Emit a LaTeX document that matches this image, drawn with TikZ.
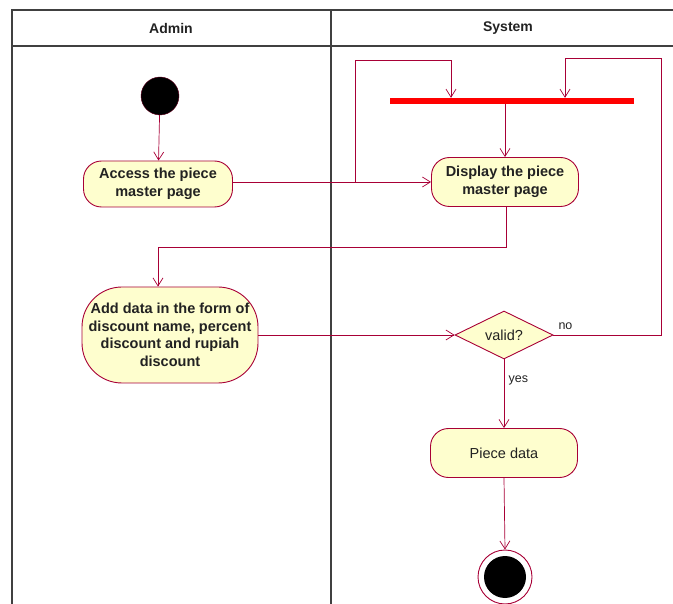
\documentclass[tikz,border=0pt]{standalone}
\usepackage{fontspec}
\setmainfont{Liberation Sans}
\usetikzlibrary{shapes.geometric,arrows.meta}
\definecolor{umlred}{HTML}{A80036}
\definecolor{umlfill}{HTML}{FEFECE}
\definecolor{txt}{HTML}{222222}
\tikzset{
  x=1pt,y=-1pt,
  act/.style={draw=umlred,fill=umlfill,rounded corners=18pt,line width=0.9pt,align=center,text=txt,font=\fontsize{14.5}{18}\selectfont\bfseries,inner sep=1pt},
  flow/.style={draw=umlred,line width=0.7pt,-{Straight Barb[length=8pt,width=10pt]}},
  line/.style={draw=umlred,line width=0.7pt},
  lane/.style={draw=black!75,line width=1.2pt},
  lbl/.style={font=\fontsize{12.5}{14}\selectfont,text=txt}
}
\begin{document}
\begin{tikzpicture}
\useasboundingbox (0,0) rectangle (673,604);
% swimlanes
\draw[lane] (12,604) -- (12,10) -- (673,10);
\draw[lane] (12,46) -- (673,46);
\draw[lane] (331,10) -- (331,604);
\node[font=\fontsize{14}{16}\selectfont\bfseries,text=txt] (hA) at (171,28) {Admin};
\node[font=\fontsize{14}{16}\selectfont\bfseries,text=txt] (hS) at (508,28) {System};
% nodes
\node[circle,fill=black,draw=umlred!60!black,minimum size=38pt,inner sep=0pt] (start) at (160,96) {};
\node[act,minimum width=149pt,minimum height=46pt] (access) at (158,184) {Access the piece\\master page};
\node[act,minimum width=147pt,minimum height=49pt] (display) at (505,182) {Display the piece\\master page};
\node[fill=red,minimum width=244pt,minimum height=6pt,inner sep=0pt] (bar) at (512,101) {};
\node[act,minimum width=176pt,minimum height=96pt,rounded corners=40pt,inner sep=0pt,font=\fontsize{14.5}{17.5}\selectfont\bfseries] (add) at (170,335) {Add data in the form of\\discount name, percent\\discount and rupiah\\discount};
\node[diamond,draw=umlred,fill=umlfill,line width=0.9pt,minimum width=98pt,minimum height=48pt,inner sep=0pt,aspect=2] (valid) at (504,335) {};
\node[text=txt,font=\fontsize{14.5}{17}\selectfont] (validt) at (504,335) {valid?};
\node[act,font=\fontsize{14.5}{17}\selectfont,minimum width=147pt,minimum height=49pt] (piece) at (504,453) {Piece data};
\node[circle,draw=umlred,fill=white,line width=0.9pt,minimum size=54pt,inner sep=0pt] (end) at (505,577) {};
\node[circle,fill=black,minimum size=42pt,inner sep=0pt] (endin) at (505,577) {};
% connectors
\coordinate (j1) at (355,182);
\coordinate (c1) at (355,60);
\coordinate (c2) at (451,60);
\coordinate (c3) at (661,335);
\coordinate (c4) at (661,58);
\coordinate (c5) at (565,58);
\coordinate (d1) at (506,247);
\coordinate (d2) at (158,247);
\draw[flow] (start) -- (access);
\draw[flow] (access.east |- display) -- (display.west);
\draw[flow] (j1) -- (c1) -- (c2) -- (c2 |- bar.north);
\draw[flow] (valid.east) -- (c3) -- (c4) -- (c5) -- (c5 |- bar.north);
\draw[flow] (bar.south -| display.north) -- (display.north);
\draw[flow] (display.south -| d1) -- (d1) -- (d2) -- (add.north -| d2);
\draw[flow] (add.east |- valid) -- (valid.west);
\draw[flow] (valid.south) -- node[lbl,right,pos=0.3,xshift=1pt] (yes) {yes} (piece.north);
\draw[flow] (piece.south) -- (end.north);
\node[lbl,anchor=south west] (no) at (555,333) {no};
\end{tikzpicture}
\end{document}
